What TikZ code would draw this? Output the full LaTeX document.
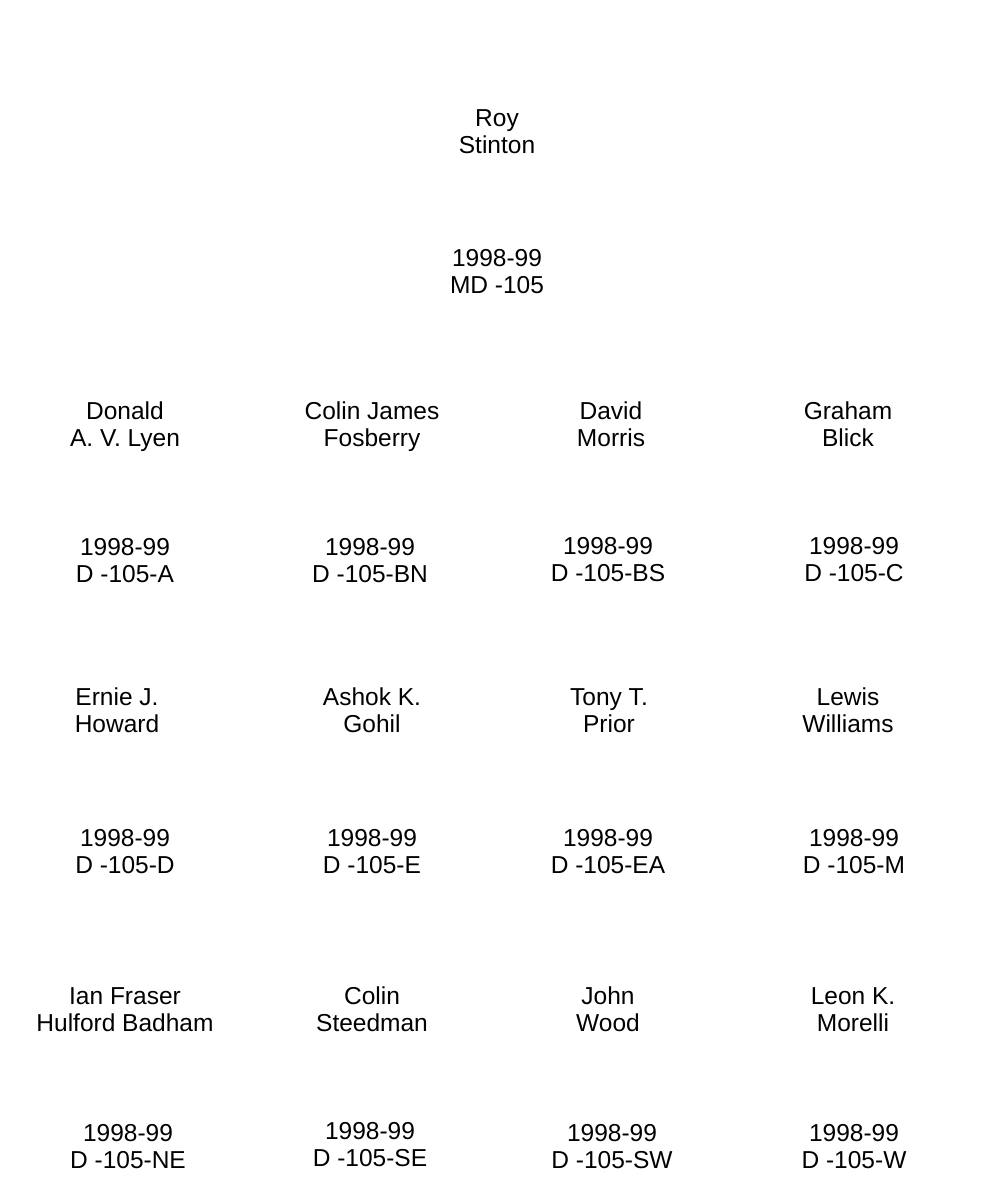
\documentclass[tikz,border=0pt]{standalone}
\usepackage{fontspec}
\setmainfont{Liberation Sans}
\begin{document}
\begin{tikzpicture}[x=1pt,y=-1pt,
  lbl/.style={align=center,inner sep=0pt,yshift=-3.4pt,font=\fontsize{24.5}{27}\selectfont}]
\useasboundingbox (0,0) rectangle (996,1197);
\fill[white] (0,0) rectangle (996,1197);
\node[lbl] (md) at (497,131) {\strut Roy\\\strut Stinton};
\node[lbl] (mdc) at (497,271) {\strut 1998-99\\\strut MD -105};
% row 1
\node[lbl] (a) at (125,424) {\strut Donald\\\strut A. V. Lyen};
\node[lbl] (bn) at (372,424) {\strut Colin James\\\strut Fosberry};
\node[lbl] (bs) at (611,424) {\strut David\\\strut Morris};
\node[lbl] (c) at (848,424) {\strut Graham\\\strut Blick};
\node[lbl] (ac) at (125,560) {\strut 1998-99\\\strut D -105-A};
\node[lbl] (bnc) at (370,560) {\strut 1998-99\\\strut D -105-BN};
\node[lbl] (bsc) at (608,559) {\strut 1998-99\\\strut D -105-BS};
\node[lbl] (cc) at (854,559) {\strut 1998-99\\\strut D -105-C};
% row 2
\node[lbl] (d) at (117,710) {\strut Ernie J.\\\strut Howard};
\node[lbl] (e) at (372,710) {\strut Ashok K.\\\strut Gohil};
\node[lbl] (ea) at (609,710) {\strut Tony T.\\\strut Prior};
\node[lbl] (m) at (848,710) {\strut Lewis\\\strut Williams};
\node[lbl] (dc) at (125,851) {\strut 1998-99\\\strut D -105-D};
\node[lbl] (ec) at (372,851) {\strut 1998-99\\\strut D -105-E};
\node[lbl] (eac) at (608,851) {\strut 1998-99\\\strut D -105-EA};
\node[lbl] (mc) at (854,851) {\strut 1998-99\\\strut D -105-M};
% row 3
\node[lbl] (ne) at (125,1009) {\strut Ian Fraser\\\strut Hulford Badham};
\node[lbl] (se) at (372,1009) {\strut Colin\\\strut Steedman};
\node[lbl] (sw) at (608,1009) {\strut John\\\strut Wood};
\node[lbl] (w) at (853,1009) {\strut Leon K.\\\strut Morelli};
\node[lbl] (nec) at (128,1146) {\strut 1998-99\\\strut D -105-NE};
\node[lbl] (sec) at (370,1144) {\strut 1998-99\\\strut D -105-SE};
\node[lbl] (swc) at (612,1146) {\strut 1998-99\\\strut D -105-SW};
\node[lbl] (wc) at (854,1146) {\strut 1998-99\\\strut D -105-W};
\end{tikzpicture}
\end{document}
